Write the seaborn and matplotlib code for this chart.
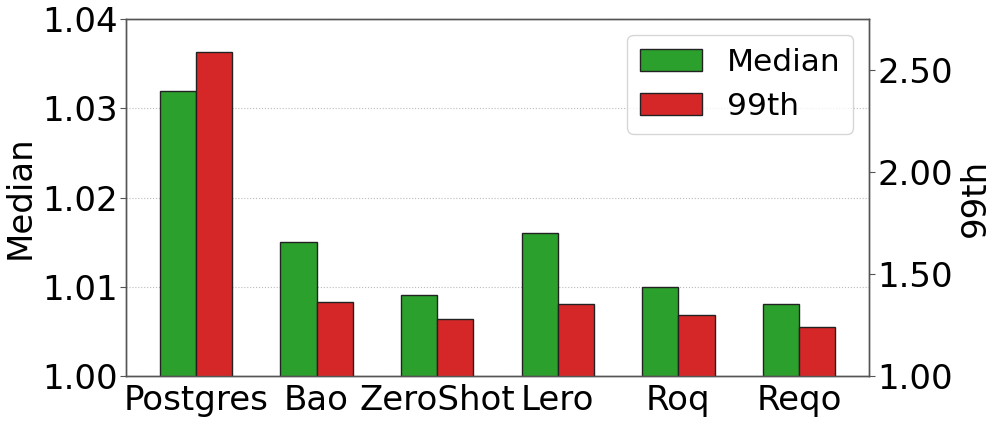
import pandas as pd
import seaborn as sns
import matplotlib.pyplot as plt
from matplotlib.patches import Patch

# values
methods = ['Postgres', 'Bao', 'ZeroShot', 'Lero', 'Roq', 'Reqo']
median_vals = [1.032, 1.015, 1.009, 1.016, 1.010, 1.008]
p99_vals = [2.59, 1.36, 1.28, 1.35, 1.30, 1.24]

green = '#2ca02c'
red = '#d62728'

sns.set_style('white')
plt.rcParams['font.family'] = ['DejaVu Sans']
plt.rcParams['font.size'] = 24.5
plt.rcParams['text.color'] = 'black'
plt.rcParams['axes.labelcolor'] = 'black'

df_med = pd.DataFrame({'method': methods + methods,
                       'metric': ['Median'] * 6 + ['99th'] * 6,
                       'value': median_vals + [float('nan')] * 6})
df_p99 = pd.DataFrame({'method': methods + methods,
                       'metric': ['Median'] * 6 + ['99th'] * 6,
                       'value': [float('nan')] * 6 + p99_vals})

fig = plt.figure(figsize=(9.96, 4.23), dpi=100)
ax = fig.add_axes([0.1265, 0.112, 0.746, 0.842])
ax2 = ax.twinx()

pal = {'Median': green, '99th': red}
sns.barplot(data=df_med, x='method', y='value', hue='metric', hue_order=['Median', '99th'],
            palette=pal, saturation=1, width=0.6, errorbar=None, edgecolor='#222222',
            linewidth=1, legend=False, ax=ax, order=methods)
sns.barplot(data=df_p99, x='method', y='value', hue='metric', hue_order=['Median', '99th'],
            palette=pal, saturation=1, width=0.6, errorbar=None, edgecolor='#222222',
            linewidth=1, legend=False, ax=ax2, order=methods)

ax.set_xlim(-0.58, 5.58)
ax.set_ylim(1.0, 1.04)
ax.set_yticks([1.00, 1.01, 1.02, 1.03, 1.04])
ax.set_yticklabels(['1.00', '1.01', '1.02', '1.03', '1.04'])
ax2.set_ylim(1.0, 2.75)
ax2.set_yticks([1.0, 1.5, 2.0, 2.5])
ax2.set_yticklabels(['1.00', '1.50', '2.00', '2.50'])

ax.set_xlabel('')
ax.set_ylabel('Median')
ax2.set_xlabel('')
ax2.set_ylabel('99th')

ax.yaxis.grid(True, linestyle=':', color='#bbbbbb', linewidth=0.8)
ax.set_axisbelow(True)

for a in (ax, ax2):
    a.tick_params(axis='both', direction='out', length=4, width=0.8, color='#555555',
                  labelcolor='black', pad=2)
    for s in a.spines.values():
        s.set_color('#555555')
        s.set_linewidth(1)

handles = [Patch(facecolor=green, edgecolor='#222222', label='Median'),
           Patch(facecolor=red, edgecolor='#222222', label='99th')]
ax2.legend(handles=handles, loc='upper right', fontsize=22.5, frameon=True,
           borderaxespad=0.5, handletextpad=0.8)

fig.savefig('out.png', dpi=100)
